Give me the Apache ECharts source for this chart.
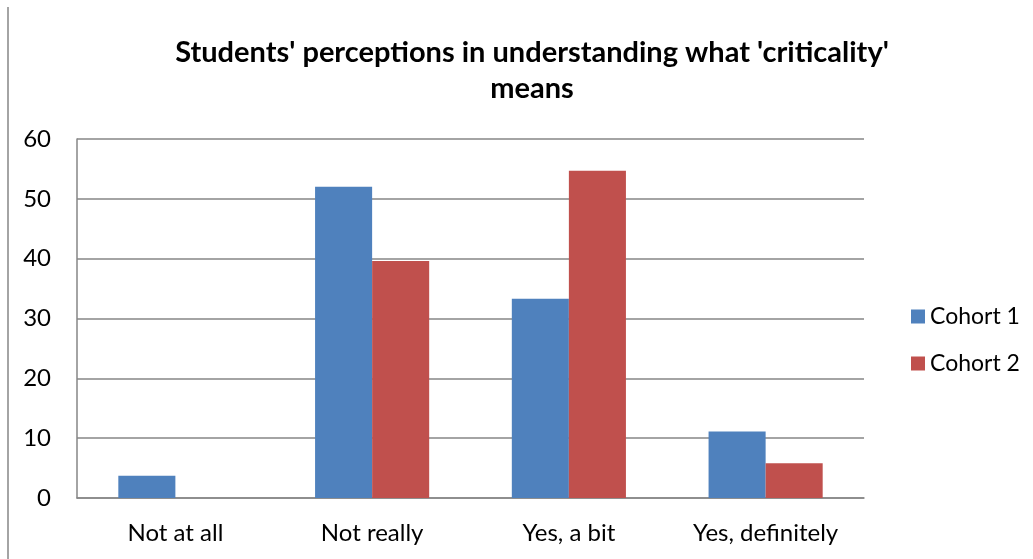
<!DOCTYPE html>
<html>
<head>
<meta charset="utf-8">
<script src="https://cdn.jsdelivr.net/npm/echarts@6/dist/echarts.min.js"></script>
<style>html,body{margin:0;padding:0;background:#fff;}#c{width:1033px;height:559px;}</style>
</head>
<body>
<div id="c"></div>
<script>
var categories = ['Not at all', 'Not really', 'Yes, a bit', 'Yes, definitely'];
var cohort1 = [3.7, 52.0, 33.3, 11.1];
var cohort2 = [0, 39.6, 54.7, 5.8];
var yTicks = [0, 10, 20, 30, 40, 50, 60];

var FONT = 'Lato, "Open Sans", sans-serif';
var chart = echarts.init(document.getElementById('c'));
chart.setOption({
  animation: false,
  backgroundColor: '#fff',
  title: {
    text: "Students' perceptions in understanding what 'criticality'\nmeans",
    left: 527, top: 30, textAlign: 'center',
    textStyle: {fontFamily: FONT, fontSize: 29, fontWeight: 'bold', color: '#000', lineHeight: 36}
  },
  legend: {
    orient: 'vertical', left: 906, top: 300,
    itemWidth: 14, itemHeight: 14, itemGap: 24,
    icon: 'rect',
    textStyle: {fontFamily: FONT, fontSize: 23, color: '#000'},
    data: ['Cohort 1', 'Cohort 2']
  },
  grid: {left: 77, right: 169, top: 139, bottom: 61, containLabel: false},
  xAxis: {
    type: 'category', data: categories,
    axisLine: {lineStyle: {color: '#868686', width: 1.5}},
    axisTick: {show: false},
    axisLabel: {fontFamily: FONT, fontSize: 24, color: '#000', margin: 23}
  },
  yAxis: {
    type: 'value', min: yTicks[0], max: yTicks[yTicks.length - 1], interval: 10,
    axisLine: {show: true, lineStyle: {color: '#868686', width: 1.5}},
    axisTick: {show: false},
    splitLine: {lineStyle: {color: '#868686', width: 1.5}},
    axisLabel: {fontFamily: FONT, fontSize: 24, color: '#000', margin: 26}
  },
  series: [
    {name: 'Cohort 1', type: 'bar', data: cohort1, barGap: '0%', barCategoryGap: '42%', itemStyle: {color: '#4F81BD'}},
    {name: 'Cohort 2', type: 'bar', data: cohort2, barGap: '0%', barCategoryGap: '42%', itemStyle: {color: '#C0504D'}}
  ],
  graphic: [
    {type: 'line', shape: {x1: 8, y1: 7, x2: 8, y2: 559}, style: {stroke: '#868686', lineWidth: 1.5}}
  ]
});
</script>
</body>
</html>
